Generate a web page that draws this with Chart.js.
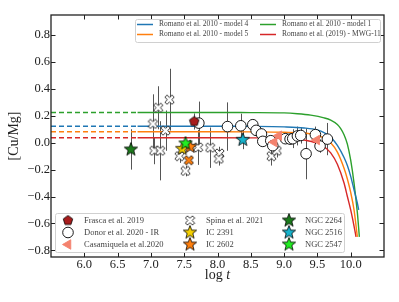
<!DOCTYPE html>
<html>
<head>
<meta charset="utf-8">
<script src="https://cdn.jsdelivr.net/npm/chart.js@4.4.0/dist/chart.umd.min.js"></script>
<style>
  html, body { margin: 0; padding: 0; background: #fff; }
  #c { display: block; }
</style>
</head>
<body>
<canvas id="c" width="399" height="302"></canvas>
<script>
// ---- model curves: log t vs [Cu/Mg] ----
const model4T = [6.8, 7.5, 8.0, 8.5, 9.0, 9.3, 9.5, 9.6, 9.7, 9.8, 9.9, 9.95, 10.0, 10.05, 10.1, 10.12];
const model4Y = [0.123, 0.123, 0.123, 0.122, 0.118, 0.11, 0.095, 0.075, 0.04, -0.02, -0.11, -0.17, -0.25, -0.35, -0.45, -0.5];
const model5T = [6.8, 7.5, 8.0, 8.5, 9.0, 9.3, 9.5, 9.6, 9.7, 9.8, 9.9, 9.95, 10.0, 10.05, 10.1];
const model5Y = [0.082, 0.082, 0.082, 0.081, 0.078, 0.072, 0.055, 0.035, 0.0, -0.07, -0.19, -0.27, -0.37, -0.5, -0.7];
const model1T = [6.8, 7.5, 8.0, 8.5, 9.0, 9.2, 9.4, 9.6, 9.7, 9.8, 9.85, 9.9, 9.95, 10.0, 10.05, 10.1, 10.13];
const model1Y = [0.225, 0.225, 0.225, 0.224, 0.222, 0.216, 0.205, 0.185, 0.168, 0.135, 0.105, 0.06, -0.01, -0.13, -0.3, -0.52, -0.7];
const mwgT = [6.8, 7.5, 8.0, 8.5, 9.0, 9.3, 9.5, 9.6, 9.7, 9.8, 9.9, 9.95, 10.0, 10.05, 10.08];
const mwgY = [0.037, 0.037, 0.037, 0.036, 0.033, 0.02, -0.005, -0.03, -0.075, -0.16, -0.3, -0.4, -0.5, -0.62, -0.7];
const dashT = [5.5, 6.8];

// ---- observations ----
const frascaT = [7.65];
const frascaY = [0.158];
const frascaErr = [0.06];

const donorT = [7.72, 8.15, 8.35, 8.53, 8.58, 8.66, 8.68, 8.80, 8.83, 9.02, 9.09, 9.13, 9.20, 9.25, 9.33, 9.47, 9.54, 9.65];
const donorY = [0.146, 0.12, 0.126, 0.134, 0.092, 0.065, 0.01, 0.015, -0.022, 0.03, 0.027, 0.03, 0.05, 0.054, -0.082, 0.06, -0.025, 0.027];
const donorErr = [0.16, 0.18, 0.09, 0.03, 0.03, 0.03, 0.03, 0.03, 0.04, 0.04, 0.04, 0.07, 0.07, 0.06, 0.19, 0.06, 0.05, 0.12];

const casaT = [8.85, 8.92, 9.49];
const casaY = [0.005, 0.052, 0.02];
const casaErr = [0.02, 0.02, 0.02];

const spinaT = [7.03, 7.11, 7.28, 7.22, 7.05, 7.14, 7.43, 7.52, 7.71, 7.89, 8.03, 8.02, 8.81, 8.89];
const spinaY = [0.14, 0.26, 0.32, 0.09, -0.06, -0.06, -0.10, -0.21, -0.035, -0.037, -0.08, -0.12, -0.10, -0.06];
const spinaErr = [0.22, 0.16, 0.23, 0.15, 0.10, 0.22, 0.05, 0.04, 0.13, 0.15, 0.05, 0.05, 0.07, 0.05];

const ic2602SpinaT = [7.57];
const ic2602SpinaY = [-0.13];

const ngc2264T = [6.70], ngc2264Y = [-0.05], ngc2264Err = [0.15];
const ngc2516T = [8.38], ngc2516Y = [0.022], ngc2516Err = [0.07];
const ngc2547T = [7.52], ngc2547Y = [-0.005];
const ic2391T = [7.47], ic2391Y = [-0.045];
const ic2602T = [7.59], ic2602Y = [-0.03];

const xTicks = [5.5, 6.0, 6.5, 7.0, 7.5, 8.0, 8.5, 9.0, 9.5, 10.0, 10.5];
const yTicks = [-0.8, -0.6, -0.4, -0.2, 0.0, 0.2, 0.4, 0.6, 0.8];

const pts = (xs, ys) => xs.map((x, i) => ({ x: x, y: ys[i] }));

// filled marker shapes drawn once onto small canvases
function markerCanvas(shape, fill, size) {
  const c = document.createElement('canvas');
  c.width = c.height = size;
  const g = c.getContext('2d');
  const cx = size / 2, cy = size / 2, r = size / 2 - 1;
  g.beginPath();
  if (shape === 'star') {
    for (let i = 0; i < 10; i++) {
      const rad = i % 2 ? r * 0.42 : r;
      const a = -Math.PI / 2 + i * Math.PI / 5;
      g.lineTo(cx + rad * Math.cos(a), cy + rad * Math.sin(a));
    }
  } else if (shape === 'pentagon') {
    for (let i = 0; i < 5; i++) {
      const a = -Math.PI / 2 + i * 2 * Math.PI / 5;
      g.lineTo(cx + r * Math.cos(a), cy + r * Math.sin(a));
    }
  } else if (shape === 'x') {
    const w = r * 0.34, L = r * 1.12;
    const base = [[w, -L], [w, -w], [L, -w], [L, w], [w, w], [w, L], [-w, L], [-w, w], [-L, w], [-L, -w], [-w, -w], [-w, -L]];
    const ca = Math.SQRT1_2;
    base.forEach(p => g.lineTo(cx + (p[0] - p[1]) * ca, cy + (p[0] + p[1]) * ca));
  }
  g.closePath();
  g.fillStyle = fill;
  g.fill();
  g.lineWidth = 0.8;
  g.strokeStyle = '#000';
  g.stroke();
  return c;
}

const pentRed = markerCanvas('pentagon', '#a81c1c', 12);
const xWhite = markerCanvas('x', '#ffffff', 11);
const xOrange = markerCanvas('x', '#ff7f0e', 11);
const starG = markerCanvas('star', '#1c7c1c', 16);
const starC = markerCanvas('star', '#17b3cc', 16);
const starL = markerCanvas('star', '#22ee22', 16);
const starY = markerCanvas('star', '#f5d000', 16);
const starO = markerCanvas('star', '#ff7f0e', 16);

function scatterSet(label, xs, ys, err, style, extra) {
  return Object.assign({
    label: label,
    data: pts(xs, ys),
    yerr: err,
    pointStyle: style,
    pointRadius: 5,
    pointBorderColor: '#000',
    pointBorderWidth: 0.9,
    pointBackgroundColor: '#fff',
    showLine: false
  }, extra || {});
}

function lineSet(label, xs, ys, color, dashed) {
  return {
    label: label,
    type: 'line',
    data: pts(xs, ys),
    borderColor: color,
    borderWidth: 1.4,
    borderDash: dashed ? [5, 3] : [],
    pointRadius: 0,
    cubicInterpolationMode: 'monotone',
    fill: false
  };
}

const datasets = [
  scatterSet('NGC 2264', ngc2264T, ngc2264Y, ngc2264Err, starG),
  scatterSet('NGC 2516', ngc2516T, ngc2516Y, ngc2516Err, starC),
  scatterSet('NGC 2547', ngc2547T, ngc2547Y, null, starL),
  scatterSet('IC 2602', ic2602T, ic2602Y, null, starO),
  scatterSet('IC 2391', ic2391T, ic2391Y, null, starY),
  scatterSet('Frasca et al. 2019', frascaT, frascaY, frascaErr, pentRed),
  scatterSet('Casamiquela et al.2020', casaT, casaY, casaErr, 'triangle', { pointRotation: -90, pointBackgroundColor: '#f4826e', pointBorderColor: '#f4826e', pointRadius: 5.5 }),
  scatterSet('IC 2602 (Spina)', ic2602SpinaT, ic2602SpinaY, null, xOrange),
  scatterSet('Donor et al. 2020 - IR', donorT, donorY, donorErr, 'circle', { pointRadius: 5.3 }),
  scatterSet('Spina et al. 2021', spinaT, spinaY, spinaErr, xWhite),
  lineSet('Romano et al. 2010 - model 4', model4T, model4Y, '#1f77b4', false),
  lineSet('Romano et al. 2010 - model 5', model5T, model5Y, '#ff7f0e', false),
  lineSet('Romano et al. 2010 - model 1', model1T, model1Y, '#2ca02c', false),
  lineSet('Romano et al. (2019) - MWG-11', mwgT, mwgY, '#d62728', false),
  lineSet('', dashT, [model4Y[0], model4Y[0]], '#1f77b4', true),
  lineSet('', dashT, [model5Y[0], model5Y[0]], '#ff7f0e', true),
  lineSet('', dashT, [model1Y[0], model1Y[0]], '#2ca02c', true),
  lineSet('', dashT, [mwgY[0], mwgY[0]], '#d62728', true)
];

const SERIF = '"Liberation Serif", "DejaVu Serif", serif';

// grey vertical error bars under the markers
const errorBars = {
  id: 'errorBars',
  beforeDatasetsDraw(chart) {
    const { ctx, scales: { x, y } } = chart;
    ctx.save();
    ctx.strokeStyle = '#555';
    ctx.lineWidth = 1;
    chart.data.datasets.forEach(ds => {
      if (!ds.yerr) return;
      ds.data.forEach((p, i) => {
        const e = ds.yerr[i];
        if (!e) return;
        const px = Math.round(x.getPixelForValue(p.x)) + 0.5;
        ctx.beginPath();
        ctx.moveTo(px, y.getPixelForValue(p.y - e));
        ctx.lineTo(px, y.getPixelForValue(p.y + e));
        ctx.stroke();
      });
    });
    ctx.restore();
  }
};

// frame, inward ticks on all four sides, x title and the two legends
const frameAndLegends = {
  id: 'frameAndLegends',
  afterDraw(chart) {
    const { ctx, chartArea: a, scales: { x, y } } = chart;
    ctx.save();
    ctx.strokeStyle = '#222';
    ctx.lineWidth = 1;
    xTicks.slice(1, -1).forEach(v => {
      const px = Math.round(x.getPixelForValue(v)) + 0.5;
      ctx.beginPath();
      ctx.moveTo(px, a.bottom); ctx.lineTo(px, a.bottom - 4.5);
      ctx.moveTo(px, a.top); ctx.lineTo(px, a.top + 4.5);
      ctx.stroke();
    });
    yTicks.forEach(v => {
      const py = Math.round(y.getPixelForValue(v)) + 0.5;
      ctx.beginPath();
      ctx.moveTo(a.left, py); ctx.lineTo(a.left + 4.5, py);
      ctx.moveTo(a.right, py); ctx.lineTo(a.right - 4.5, py);
      ctx.stroke();
    });
    ctx.lineWidth = 1.3;
    ctx.strokeRect(a.left, a.top, a.right - a.left, a.bottom - a.top);

    // x title: log t
    ctx.fillStyle = '#222';
    ctx.textBaseline = 'alphabetic';
    ctx.textAlign = 'left';
    const cx = (a.left + a.right) / 2;
    ctx.font = '14px ' + SERIF;
    const w1 = ctx.measureText('log ').width;
    ctx.font = 'italic 14px ' + SERIF;
    const w2 = ctx.measureText('t').width;
    ctx.font = '14px ' + SERIF;
    ctx.fillText('log ', cx - (w1 + w2) / 2, 279);
    ctx.font = 'italic 14px ' + SERIF;
    ctx.fillText('t', cx - (w1 + w2) / 2 + w1, 279);

    // legends
    const byLabel = {};
    chart.data.datasets.forEach(ds => { byLabel[ds.label] = ds; });
    const box = (x0, y0, w, h) => {
      ctx.save();
      ctx.beginPath();
      ctx.roundRect(x0 + 0.5, y0 + 0.5, w, h, 2);
      ctx.fillStyle = 'rgba(255,255,255,0.8)';
      ctx.fill();
      ctx.strokeStyle = '#d0d0d0';
      ctx.lineWidth = 1;
      ctx.stroke();
      ctx.restore();
    };

    box(135, 19, 245, 23);
    ctx.font = '7.5px ' + SERIF;
    ctx.fillStyle = '#444';
    ctx.textBaseline = 'middle';
    const lineItems = [
      ['Romano et al. 2010 - model 4', 137, 24.5],
      ['Romano et al. 2010 - model 5', 137, 34.5],
      ['Romano et al. 2010 - model 1', 260, 24.5],
      ['Romano et al. (2019) - MWG-11', 260, 34.5]
    ];
    lineItems.forEach(([lab, lx, ly]) => {
      const ds = byLabel[lab];
      ctx.strokeStyle = ds.borderColor;
      ctx.lineWidth = 1.5;
      ctx.beginPath();
      ctx.moveTo(lx, ly); ctx.lineTo(lx + 16, ly);
      ctx.stroke();
      ctx.fillText(lab, lx + 22, ly);
    });

    box(55, 213, 289, 39);
    ctx.font = '8.5px ' + SERIF;
    const markItems = [
      ['Frasca et al. 2019', 68, 220.5], ['Donor et al. 2020 - IR', 68, 232.5], ['Casamiquela et al.2020', 68, 244.5],
      ['Spina et al. 2021', 190, 220.5], ['IC 2391', 190, 232.5], ['IC 2602', 190, 244.5],
      ['NGC 2264', 289, 220.5], ['NGC 2516', 289, 232.5], ['NGC 2547', 289, 244.5]
    ];
    markItems.forEach(([lab, mx, my]) => {
      const ds = byLabel[lab];
      ctx.fillStyle = ds.pointBackgroundColor;
      ctx.strokeStyle = ds.pointBorderColor;
      ctx.lineWidth = ds.pointBorderWidth;
      Chart.helpers.drawPoint(ctx, {
        pointStyle: ds.pointStyle, radius: ds.pointRadius,
        rotation: ds.pointRotation || 0, borderWidth: ds.pointBorderWidth
      }, mx, my);
      ctx.fillStyle = '#444';
      ctx.fillText(lab, mx + 16, my);
    });
    ctx.restore();
  }
};

new Chart(document.getElementById('c'), {
  type: 'scatter',
  data: { datasets: datasets },
  options: {
    responsive: false,
    animation: false,
    layout: { padding: { top: 15, right: 15, left: 0, bottom: 0 } },
    plugins: { legend: { display: false }, tooltip: { enabled: false } },
    scales: {
      x: {
        type: 'linear', min: 5.5, max: 10.5,
        afterBuildTicks: s => { s.ticks = xTicks.map(v => ({ value: v })); },
        afterFit: s => { s.height = 45; },
        grid: { display: false, drawTicks: false },
        border: { display: false },
        ticks: {
          padding: 0, color: '#222', font: { family: SERIF, size: 12.5 },
          maxRotation: 0, autoSkip: false,
          callback: v => (v === 5.5 || v === 10.5) ? '' : v.toFixed(1)
        },
        title: { display: false }
      },
      y: {
        type: 'linear', min: -0.85, max: 0.95,
        afterBuildTicks: s => { s.ticks = yTicks.map(v => ({ value: v })); },
        afterFit: s => { s.width = 51; },
        grid: { display: false, drawTicks: false },
        border: { display: false },
        ticks: {
          padding: 1, color: '#222', font: { family: SERIF, size: 12.5 },
          autoSkip: false,
          callback: v => (v < -1e-9 ? '\u2212' + Math.abs(v).toFixed(1) : Math.abs(v).toFixed(1))
        },
        title: { display: true, text: '[Cu/Mg]', color: '#222', font: { family: SERIF, size: 14 }, padding: { top: 6, bottom: 2 } }
      }
    }
  },
  plugins: [errorBars, frameAndLegends]
});
</script>
</body>
</html>
